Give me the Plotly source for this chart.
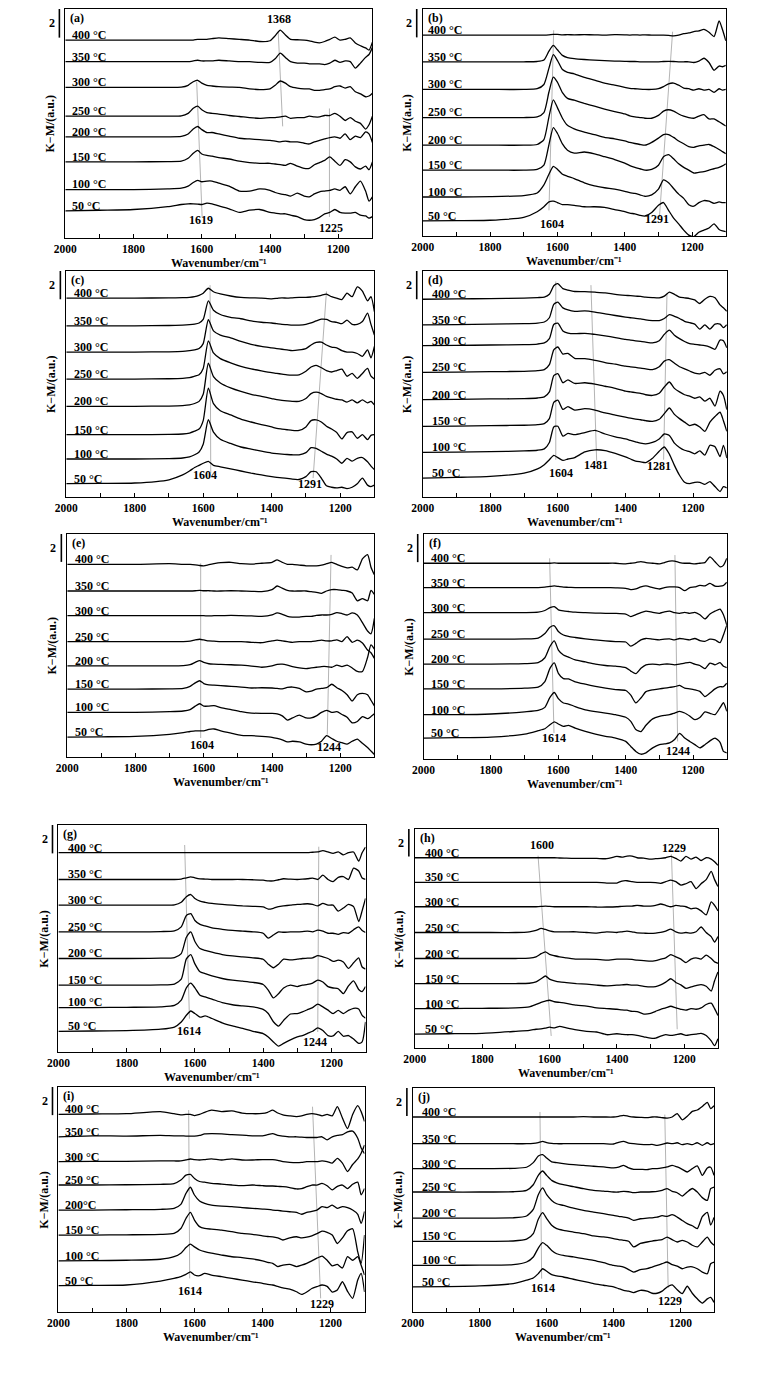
import plotly.graph_objects as go

# ---------------- data ----------------
wavenumbers = [2000, 1900, 1800, 1700, 1660, 1640, 1625, 1612, 1600, 1585,
               1570, 1550, 1520, 1490, 1460, 1430, 1400, 1385, 1370, 1355,
               1340, 1320, 1300, 1285, 1270, 1255, 1240, 1225, 1210, 1195,
               1180, 1165, 1150, 1135, 1120, 1110, 1100]

temps = ["50 °C", "100 °C", "150 °C", "200 °C", "250 °C", "300 °C", "350 °C", "400 °C"]
temps_i = ["50 °C", "100 °C", "150 °C", "200°C", "250 °C", "300 °C", "350 °C", "400 °C"]

# baseline level of each spectrum (50 ... 400 °C), a.u.
offsets_a = [1.89, 3.38, 5.32, 7.07, 8.51, 10.52, 12.32, 13.83]
offsets_b = [1.06, 2.75, 4.64, 6.40, 8.35, 10.33, 12.28, 14.16]
offsets_c = [0.94, 2.69, 4.41, 6.42, 8.35, 10.26, 12.12, 14.08]
offsets_d = [1.34, 3.16, 5.00, 6.89, 8.82, 10.71, 12.19, 14.00]
offsets_e = [1.43, 3.20, 4.87, 6.54, 8.28, 10.14, 11.91, 13.82]
offsets_f = [1.49, 3.15, 4.99, 6.75, 8.52, 10.41, 12.19, 13.92]
offsets_g = [1.46, 3.13, 4.71, 6.59, 8.47, 10.35, 12.16, 14.05]
offsets_h = [1.02, 2.88, 4.71, 6.54, 8.44, 10.32, 12.10, 13.90]
offsets_i = [1.87, 3.63, 5.47, 7.25, 9.03, 10.69, 12.46, 14.05]
offsets_j = [1.79, 3.33, 5.05, 6.71, 8.57, 10.24, 12.02, 13.93]

# K-M signal above each baseline, order 50 ... 400 °C
spectra_a = [
    [0,0.05,0.1,0.3,0.45,0.5,0.5,0.48,0.45,0.55, 0.5,0.35,0.15,-0.1,0.05,0.1,-0.1,-0.15,-0.2,-0.2, -0.3,-0.4,-0.6,-0.65,-0.6,-0.45,-0.2,-0.1,0.1,-0.1, -0.15,-0.15,-0.1,-0.3,-0.35,-0.5,-0.4],
    [0,0,0,0.05,0.1,0.25,0.5,0.65,0.55,0.6, 0.6,0.45,0.25,-0.1,-0.1,0.05,-0.05,-0.2,-0.3,-0.35, -0.45,-0.25,-0.45,-0.5,-0.3,-0.15,-0.1,-0.05,0.05,-0.05, 0.2,-0.3,0.2,0.6,-0.1,-0.8,-0.5],
    [0,0,0,0.02,0.05,0.25,0.6,0.8,0.55,0.45, 0.4,0.3,0.2,0.05,-0.05,-0.1,-0.1,-0.15,-0.2,-0.25, -0.1,-0.3,-0.45,-0.45,-0.2,-0.05,0.1,0.35,0.05,-0.25, 0.15,0,-0.35,-0.5,-0.3,-0.55,0],
    [0,0,0,0,0.03,0.2,0.55,0.72,0.5,0.3, 0.3,0.2,0.05,-0.1,-0.15,-0.2,-0.25,-0.3,-0.35,-0.3, -0.35,-0.35,-0.45,-0.5,-0.35,-0.25,-0.15,-0.05,0,-0.1, 0.2,-0.2,0.05,-0.05,0.35,0.2,-0.4],
    [0,0,0,0,0.02,0.2,0.55,0.7,0.45,0.25, 0.2,0.15,0.05,-0.02,-0.1,-0.15,-0.1,-0.1,-0.05,0, -0.15,-0.1,-0.1,0,-0.05,-0.05,0.05,0.05,0.2,0, -0.3,-0.1,-0.35,-0.5,-0.9,-0.6,0],
    [0,0,0,0,0.02,0.15,0.4,0.5,0.3,0.15, 0.1,0.05,0.02,0,-0.1,-0.15,-0.1,0.15,0.45,0.3, 0.05,-0.05,-0.1,-0.1,-0.2,-0.2,-0.15,-0.1,0.05,0.1, -0.05,0.05,-0.3,-0.45,-0.65,-0.6,-0.4],
    [0,0,0,0,0,0,0.05,0.1,0.05,0.05, 0.05,0.1,0.05,0,0,-0.05,-0.05,0.2,0.6,0.3, 0,-0.1,-0.1,-0.15,-0.15,-0.15,-0.2,-0.1,0.1,-0.05, 0.05,0,-0.45,-0.1,0.3,0.5,1.0],
    [0,0,0,0,0,0,0,0.05,0.05,0.05, 0.1,0.15,0.1,0.05,0,-0.1,-0.05,0.3,0.7,0.35, 0.05,0.02,0,-0.05,-0.15,-0.2,-0.1,0.05,0.2,0, 0.05,0.15,-0.2,-0.4,-0.55,-0.7,-0.15],
]
spectra_b = [
    [0,0.02,0.05,0.25,0.65,1.0,1.35,1.4,1.3,1.15, 1.15,1.1,1.0,1.0,0.95,0.8,0.65,0.55,0.5,0.4, 0.35,0.6,1.1,1.3,0.75,0.2,-0.2,-0.65,-1.0,-1.1, -0.8,-0.65,-0.5,-0.2,-0.6,-0.7,-0.75],
    [0,0,0.02,0.1,0.28,0.85,1.6,2.15,1.95,1.6, 1.46,1.3,1.0,0.78,0.65,0.55,0.4,0.3,0.25,0.15, 0.05,0.15,0.55,1.2,1.0,0.6,0.2,-0.1,-0.55,-0.65, -0.4,-0.25,-0.3,-0.45,-0.35,-0.4,-0.4],
    [0,0,0,0,0.05,0.35,1.8,3.0,2.6,1.85, 1.4,1.2,1.28,1.15,0.95,0.75,0.5,0.32,0.2,0.1, 0,0.05,0.35,0.95,1.1,0.8,0.45,0.2,0,-0.2, -0.15,-0.1,0,0.1,0.2,0.3,0.45],
    [0,0,0,0,0.05,0.4,2.0,3.2,2.65,1.9, 1.4,1.15,0.92,0.75,0.55,0.45,0.3,0.2,0.12,0.05, 0,0.2,0.5,0.75,0.75,0.55,0.3,0.1,-0.1,-0.15, -0.05,0,0.05,-0.1,-0.3,-0.45,-0.6],
    [0,0,0,0,0.05,0.35,1.8,2.85,2.5,1.75, 1.35,1.22,1.0,0.8,0.6,0.42,0.25,0.12,0.05,0, -0.05,-0.05,0.15,0.45,0.55,0.45,0.25,0.1,0,-0.05, 0.1,0.2,-0.1,-0.1,-0.3,-0.45,-0.6],
    [0,0,0,0,0.05,0.35,1.5,2.45,2.05,1.4, 1.2,1.1,0.85,0.65,0.45,0.3,0.15,0.08,0.05,0.02, 0,0,0.05,0.2,0.4,0.45,0.3,0.1,0.05,-0.05, 0.05,-0.05,0,-0.2,0.05,-0.05,0],
    [0,0,0,0,0.02,0.12,0.75,1.15,0.85,0.45, 0.3,0.22,0.16,0.12,0.08,0.05,0.03,0.02,0.02,0, 0,0,0,0.02,0.03,0.02,0,0,0,-0.05, 0.05,0.25,-0.05,-0.6,-0.3,-0.35,-0.25],
    [0,0,0,0,0,0,0.02,0.05,0.05,0.02, 0.03,0.02,0.03,0.02,0,0.03,0.02,0,0.02,0, 0.02,0,0,0,-0.02,-0.05,0,0.1,0.15,0.25, 0.3,0.4,0.2,-0.1,1.0,0.4,-0.4],
]
spectra_c = [
    [0,0.02,0.05,0.28,0.62,0.9,1.15,1.3,1.45,1.58, 1.3,1.2,1.05,0.9,0.75,0.62,0.5,0.45,0.42,0.38, 0.32,0.3,0.5,0.85,0.85,0.4,-0.15,-0.25,-0.3,-0.25, -0.35,-0.25,0,0.4,-0.1,-0.2,-0.1],
    [0,0,0,0.03,0.07,0.15,0.3,0.5,1.05,2.78, 1.9,1.4,1.1,0.85,0.7,0.55,0.42,0.38,0.35,0.32, 0.3,0.3,0.45,0.8,0.75,0.55,0.35,0.2,0,-0.3, 0.05,-0.15,0.05,0.1,-0.2,-0.5,-0.75],
    [0,0,0,0.02,0.05,0.12,0.25,0.4,1.0,3.3, 2.2,1.7,1.4,1.1,0.9,0.72,0.55,0.45,0.4,0.35, 0.3,0.3,0.55,1.0,1.05,0.9,0.6,0.4,0.15,-0.3, 0.15,0.2,-0.25,0,-0.35,-0.05,0],
    [0,0,0,0.02,0.05,0.1,0.2,0.35,0.85,3.05, 2.1,1.65,1.3,1.05,0.85,0.7,0.55,0.47,0.42,0.38, 0.35,0.35,0.55,0.9,1.0,0.9,0.7,0.6,0.5,0.45, 0.3,0.45,0.25,0.45,0.25,0.35,0.1],
    [0,0,0,0.02,0.05,0.1,0.2,0.3,0.75,2.71, 1.85,1.45,1.15,0.9,0.72,0.58,0.45,0.4,0.35,0.3, 0.28,0.3,0.55,0.85,0.97,0.8,0.6,0.5,0.6,0.7, 0.2,0.4,0.05,0.4,0.75,0.2,0],
    [0,0,0,0.02,0.05,0.1,0.15,0.25,0.6,2.29, 1.5,1.2,1.0,0.75,0.55,0.4,0.3,0.25,0.2,0.15, 0.1,0.15,0.25,0.5,0.68,0.7,0.5,0.35,0.3,0.1, 0,0,-0.1,-0.3,0.15,-0.4,0.4],
    [0,0,0,0.02,0.05,0.08,0.12,0.2,0.45,1.77, 1.1,0.8,0.6,0.5,0.35,0.25,0.2,0.15,0.1,0.08, 0.05,0.05,0.1,0.2,0.35,0.47,0.45,0.3,0.25,0.15, 0.4,0.1,0.1,0.3,0.9,0.1,-0.65],
    [0,0,0,0.02,0.03,0.05,0.1,0.2,0.35,0.7, 0.45,0.3,0.15,0.05,0.02,0,-0.05,-0.02,0.02,0, 0.02,0.05,0.05,0.08,0.12,0.2,0.28,0.1,0,-0.1, 0.35,0.1,0.8,0.5,-0.2,0.1,-0.95],
]
spectra_d = [
    [0,0.05,0.12,0.35,0.65,0.95,1.3,1.6,1.45,1.25, 1.35,1.45,1.85,2.0,1.95,1.75,1.5,1.35,1.2,1.15, 1.1,1.4,1.9,2.2,1.7,0.9,0.2,-0.3,-0.4,-0.3, -0.3,-0.45,-0.25,-0.6,-0.95,-0.6,-0.7],
    [0,0.02,0.05,0.1,0.15,0.25,0.7,1.8,1.85,1.15, 1.35,1.25,1.4,1.55,1.3,1.1,0.95,0.85,0.75,0.65, 0.6,0.7,0.95,1.3,1.2,0.65,0.35,0.15,0.05,-0.1, 0.1,-0.2,0.5,0.4,-0.3,0.5,-0.4],
    [0,0.02,0.05,0.08,0.12,0.2,0.55,1.7,1.85,1.2, 1.4,1.15,1.25,1.15,0.95,0.8,0.65,0.58,0.52,0.47, 0.4,0.35,0.5,0.9,1.3,0.85,0.55,0.3,0.05,0.15, -0.05,-0.35,0.3,0.7,1.0,0.4,-0.35],
    [0,0.02,0.05,0.08,0.12,0.2,0.55,1.7,1.85,1.2, 1.4,1.15,1.2,1.1,0.95,0.8,0.6,0.55,0.5,0.45, 0.35,0.3,0.45,0.9,1.25,0.8,0.55,0.35,0.25,0.1, 0.2,-0.1,0.1,-0.45,0.6,0.3,-0.7],
    [0,0.02,0.05,0.08,0.12,0.2,0.55,1.6,1.8,1.3, 1.35,1.0,0.97,0.85,0.7,0.58,0.45,0.4,0.35,0.3, 0.25,0.2,0.4,0.8,0.9,0.65,0.4,0.25,0.1,-0.05, -0.1,0,-0.2,0.15,0.25,-0.1,0.05],
    [0,0.02,0.05,0.08,0.12,0.2,0.5,1.5,1.6,1.05, 0.9,0.85,0.88,0.8,0.7,0.58,0.45,0.4,0.35,0.3, 0.25,0.2,0.35,0.8,1.1,0.75,0.5,0.3,0.15,0.1, 0.05,0,-0.1,-0.25,0.4,0.35,-0.15],
    [0,0.02,0.05,0.08,0.12,0.2,0.5,1.45,1.6,1.2, 1.05,0.95,0.98,0.9,0.78,0.66,0.55,0.5,0.45,0.42, 0.35,0.3,0.3,0.45,0.72,0.6,0.45,0.25,0.15,0.05, -0.3,0,-0.3,0.05,0.05,-0.2,0],
    [0,0.02,0.05,0.08,0.12,0.15,0.35,0.95,1.1,0.75, 0.65,0.55,0.54,0.5,0.45,0.35,0.28,0.25,0.22,0.2, 0.15,0.12,0.1,0.22,0.5,0.35,0.15,0.1,0.05,-0.05, -0.3,0,0.2,0.1,-0.4,-0.6,-0.85],
]
spectra_e = [
    [0,0.02,0.05,0.2,0.32,0.4,0.45,0.45,0.45,0.55, 0.58,0.45,0.28,0.12,0.1,0.05,-0.02,-0.1,-0.2,-0.35, -0.3,-0.35,-0.5,-0.55,-0.5,-0.3,0.1,-0.1,-0.3,-0.4, -0.5,-0.3,-0.15,-0.45,-0.75,-1.0,-1.25],
    [0,0,0,0.05,0.1,0.2,0.45,0.62,0.45,0.45, 0.48,0.35,0.2,0.05,-0.05,-0.07,-0.07,-0.1,-0.25,-0.55, -0.4,-0.2,-0.4,-0.4,-0.25,0,0.15,0,0.05,-0.15, -0.35,-0.75,-0.65,-0.3,-0.45,-0.3,-0.1],
    [0,0,0,0.02,0.05,0.2,0.45,0.6,0.4,0.3, 0.28,0.25,0.2,0.15,0.08,0.1,0.08,0.05,0.02,0.12, 0.15,0.05,-0.2,-0.15,0,0.05,0.1,0.35,0.1,-0.1, -0.4,-0.85,-0.4,-0.3,-0.4,-0.8,-1.2],
    [0,0,0,0,0.02,0.08,0.25,0.38,0.25,0.15, 0.12,0.1,0.08,0.05,-0.02,-0.1,0,0.1,0.12,0.05, -0.05,-0.15,-0.2,-0.15,-0.1,-0.05,-0.05,-0.1,0.05,-0.05, 0.05,-0.15,-0.4,-0.4,0.6,1.5,1.2],
    [0,0,0,0,0,0.03,0.12,0.17,0.12,0.05, 0.03,0,0,0,-0.05,-0.08,0.05,0.1,0.05,0, -0.05,0,0,0,0.05,0.1,0.05,0.05,0.12,0, 0.35,-0.05,0.1,-0.1,-0.6,-0.8,-1.2],
    [0,0,0,0,0,0,0,0,0,-0.02, 0,0,0.02,0,-0.02,-0.05,0.05,0.2,0.1,-0.05, -0.1,-0.1,-0.05,-0.05,0.02,0.05,0.05,0.1,0.22,0.15, 0.05,0.2,0.05,-0.5,-1.1,-1.3,-0.2],
    [0,0,0,0,0,0,0.02,0.05,0.02,0.02, 0,0,0.02,0,-0.02,-0.05,0.1,0.36,0.2,0.05, 0,0,0,-0.05,-0.1,-0.17,0,0.1,0.1,0.05, 0,-0.15,-0.7,-0.55,-0.7,0.05,-0.25],
    [0,0,0,0.05,0,0,-0.03,-0.08,-0.1,-0.02, 0.05,0.12,0.15,0.05,0.02,0.08,0.15,0.33,0.15,0, 0,-0.05,-0.1,-0.1,-0.1,-0.05,0.05,0.15,0,-0.15, -0.25,-0.2,-0.4,0.4,0.7,-0.2,-0.75],
]
spectra_f = [
    [0,0.03,0.07,0.28,0.52,0.66,0.95,1.15,1.0,0.83, 0.9,0.71,0.47,0.28,0.12,0,-0.24,-0.6,-0.95,-1.15, -1.05,-0.7,-0.47,-0.42,-0.35,-0.1,0.33,0,-0.24,-0.47, -0.7,-0.47,-0.2,0,-0.3,-0.95,-1.05],
    [0,0,0.05,0.2,0.3,0.52,1.23,1.58,1.14,0.83, 0.76,0.58,0.35,0.22,0.12,0,-0.18,-0.47,-1.05,-1.2, -0.75,-0.3,-0.12,-0.05,0,0.12,0.24,0.12,-0.1,-0.35, -0.2,0.2,0.1,0,0.5,0.85,0.25],
    [0,0,0,0.05,0.12,0.52,1.45,1.85,1.1,0.72, 0.7,0.5,0.33,0.18,0.05,-0.05,-0.12,-0.45,-1.0,-0.65, -0.2,-0.07,0,0.05,0.1,0.15,0.24,0.05,0,-0.07, -0.18,-0.55,-0.3,0,0.15,0.15,0.4],
    [0,0,0,0.03,0.1,0.45,1.25,1.65,1.0,0.65, 0.5,0.3,0.15,0,-0.1,-0.15,-0.25,-0.5,-0.68,-0.3, -0.05,0,-0.05,0,0,-0.05,0,0.07,0.12,0, -0.1,-0.33,0.07,-0.05,0.1,-0.15,-0.25],
    [0,0,0,0.02,0.08,0.4,0.85,0.95,0.55,0.3, 0.2,0.12,0.02,-0.05,-0.12,-0.17,-0.2,-0.5,-0.3,-0.05, 0.05,0,-0.05,0,0.02,-0.05,0.05,0,-0.05,0.05, -0.1,-0.15,0,-0.05,-0.25,0.3,1.0],
    [0,0,0,0,0.03,0.15,0.35,0.43,0.2,0.12, 0.08,0.03,0,-0.03,-0.05,-0.05,-0.1,-0.28,-0.15,0, 0.1,0.02,-0.05,0.05,0.1,0,-0.05,0.02,-0.05,0.02, -0.15,-0.45,-0.1,0.1,0.25,-0.15,-0.88],
    [0,0,0,0,0,0.03,0.08,0.12,0.08,0.03, 0.02,0,0,0,0,-0.02,-0.05,-0.15,-0.1,0.05, 0.12,0,-0.1,0,0.05,0.05,0,-0.22,0,0.05, 0.15,0.12,0.3,0.1,0.1,0.15,0.38],
    [0,0,0,0,0,0,0,0.02,0,0, 0,0,0,0,0,0,-0.05,0,0.05,0.12, 0.05,0,-0.05,0.05,0.15,0.15,0.05,0,0,-0.05, 0,0.05,0.45,0.1,-0.25,-0.15,0.35],
]
spectra_g = [
    [0,0.02,0.05,0.15,0.3,0.66,1.13,1.43,1.25,1.0, 1.08,0.9,0.6,0.38,0.2,0,-0.16,-0.4,-0.75,-1.05, -0.85,-0.6,-0.4,-0.3,-0.15,0,0.24,0.05,-0.3,-0.33, 0,-0.35,-0.3,-0.55,-0.85,-0.75,0.66],
    [0,0,0.02,0.05,0.15,0.52,1.39,1.72,1.39,0.87, 0.75,0.6,0.35,0.2,0.12,0.05,-0.12,-0.42,-1.0,-1.3, -0.9,-0.45,-0.42,-0.3,-0.15,0,0.24,0.05,-0.18,-0.42, -0.2,-0.42,-0.2,-0.05,-0.1,-0.55,-0.75],
    [0,0,0,0.02,0.08,0.42,1.85,2.15,1.5,0.94, 0.82,0.65,0.47,0.35,0.28,0.2,0.05,-0.35,-0.9,-0.6, -0.2,0,-0.1,0,0.05,0.15,0.35,0.22,-0.1,-0.2, -0.25,-0.6,-0.05,0.3,-0.3,-0.45,-0.1],
    [0,0,0,0.02,0.07,0.35,1.5,1.88,1.2,0.7, 0.58,0.45,0.28,0.18,0.12,0.05,-0.05,-0.4,-0.65,-0.4, -0.05,-0.1,-0.05,0,0.02,0.05,0.2,0.12,0,-0.2, -0.12,-0.25,-0.7,-0.3,0.05,-0.6,-0.75],
    [0,0,0,0.02,0.07,0.35,1.15,1.28,0.8,0.52, 0.42,0.28,0.18,0.1,0.05,0,-0.1,-0.45,-0.22,0, -0.03,0,0,0.02,0.05,0,0.12,0.05,-0.1,-0.1, -0.18,-0.05,-0.1,0.15,0.35,0.1,-0.05],
    [0,0,0,0,0.02,0.2,0.6,0.75,0.47,0.28, 0.2,0.12,0.05,0,-0.05,-0.08,-0.12,-0.28,-0.22,-0.1, -0.05,0,0.05,0.07,0.1,0.05,-0.05,0.12,0,0, -0.42,-0.2,0.05,-0.1,-1.15,-0.4,0.47],
    [0,0,0,0,0,0.03,0.12,0.19,0.12,0.05, 0.03,0,0,0,0,-0.02,-0.05,-0.1,-0.1,-0.02, 0.05,0.02,0,0.02,0.05,0.1,0,0.3,0,-0.15, 0.15,0.2,0,0.8,0.6,0.1,0],
    [0,0,0,0,0,0,0,0,0,0, 0,0,0,0,0,0,0,0,0,0, 0,0,0,0,0,0.03,0.05,0.15,0.05,-0.05, 0.05,-0.15,0,0.05,-0.6,0,0.4],
]
spectra_h = [
    [0,0.02,0.05,0.2,0.27,0.35,0.38,0.44,0.5,0.45, 0.56,0.45,0.3,0.2,0.15,-0.05,0.02,-0.02,-0.05,-0.05, -0.1,-0.2,-0.3,-0.3,-0.15,-0.05,-0.1,-0.05,0.02,-0.1, -0.05,0,0.05,-0.1,-0.5,-0.85,-0.35],
    [0,0,0.02,0.05,0.12,0.3,0.45,0.55,0.61,0.5, 0.45,0.38,0.25,0.18,0.05,0,-0.05,-0.1,-0.12,-0.2, -0.22,-0.4,-0.35,-0.2,-0.05,0.05,0.17,0.05,-0.05,-0.12, 0,-0.05,0.05,0.3,0.4,0,-0.5],
    [0,0,0,0,0.02,0.12,0.35,0.55,0.32,0.2, 0.12,0.07,0,-0.05,-0.12,-0.17,-0.12,-0.1,-0.07,-0.12, -0.12,-0.2,-0.25,-0.22,-0.1,0.1,0.35,0.08,-0.1,-0.35, -0.25,-0.15,-0.08,-0.2,-0.55,0.2,0.85],
    [0,0,0,0,0.02,0.12,0.35,0.49,0.3,0.2, 0.12,0.05,-0.05,-0.05,-0.07,-0.12,-0.05,-0.05,-0.05,-0.07, -0.12,-0.15,-0.2,-0.15,-0.05,0.05,0.28,0.12,-0.05,-0.3, -0.05,0.05,-0.05,0.25,0,-0.25,-0.35],
    [0,0,0,0,0.05,0.15,0.3,0.22,0.12,0.05, 0.05,0.05,0.05,0,-0.05,0.05,0,0.05,0.1,0.05, -0.03,-0.05,-0.07,-0.05,0,0.1,0.24,0.05,-0.05,0, -0.05,0.05,0.4,0,-0.3,-0.7,-0.3],
    [0,0,0,0,0,0,0.02,0.05,0.02,0, 0,0,0,0,-0.02,-0.02,0,0.03,0.05,0.05, 0.1,0.05,0.05,0.1,0.2,0.1,0,0.1,0.05,0, -0.15,-0.1,-0.3,-0.6,0.35,0.1,-0.3],
    [0,0,0,0,0,0,0,0,0,0, 0,0,0,0,0,-0.05,-0.05,0.1,0.12,0.05, 0,0,0,-0.02,-0.07,0.05,0.17,0.05,-0.2,-0.1, 0.05,-0.45,-0.1,0.2,0.8,0.2,-0.3],
    [0,0,0,0,0,0,0,0,0,0, -0.02,-0.03,-0.05,-0.05,-0.05,-0.07,0.1,0.05,0.12,0.12, 0,-0.03,-0.1,-0.07,-0.05,0,0.1,-0.05,-0.24,0.1, -0.1,0.05,-0.2,0,-0.1,-0.3,-0.55],
]
spectra_i = [
    [0,0.02,0.05,0.33,0.52,0.64,0.8,0.98,0.76,0.71, 0.88,0.76,0.64,0.52,0.4,0.28,0.17,0.1,0.05,-0.05, -0.15,-0.24,-0.43,-0.62,-0.45,-0.2,-0.07,0.05,-0.05,-0.45, -0.3,0.28,-0.4,-0.9,0.4,0.88,-0.45],
    [0,0.02,0.05,0.12,0.3,0.55,0.95,1.2,1.0,0.78, 0.66,0.55,0.42,0.3,0.24,0.14,0,-0.1,-0.17,-0.4, -0.3,-0.24,-0.4,-0.3,-0.17,0,0.2,0.35,0.05,-0.35, -0.25,-0.5,0.3,0.05,0.3,-0.3,-1.0],
    [0,0,0.02,0.05,0.12,0.47,1.18,1.62,1.07,0.6, 0.47,0.42,0.35,0.24,0.12,0.05,-0.05,-0.1,-0.12,-0.2, -0.35,-0.2,-0.12,-0.2,-0.15,-0.05,0.1,0.28,0.2,0, -0.6,-0.2,0.3,0.45,-1.2,-2.0,0],
    [0,0,0.02,0.05,0.12,0.4,1.18,1.62,1.07,0.64, 0.47,0.35,0.28,0.24,0.17,0.12,0.07,0.05,0,-0.03, -0.07,-0.12,-0.17,-0.3,-0.17,-0.1,0,0.24,0.17,0.35, 0.12,0.24,0.17,0,-0.3,-0.95,-0.1],
    [0,0,0.02,0.05,0.1,0.35,0.7,0.75,0.47,0.25, 0.2,0.12,0.07,0,-0.05,0,-0.05,-0.07,-0.07,-0.1, -0.12,-0.18,-0.28,-0.25,-0.12,0,0,0.12,-0.05,-0.35, -0.1,0,-0.25,0.05,0.2,-0.7,-0.25],
    [0,0.02,0.02,0.05,0.05,0.05,0.12,0.19,0.15,0.12, 0.15,0.2,0.12,0.2,0.12,0.12,0.15,0.15,0.15,0.1, 0,-0.05,-0.07,-0.05,0,0,0,0.05,0,-0.1, 0.24,-0.1,-0.7,-0.2,0.2,0.6,1.18],
    [0,0.07,0.05,0.1,0.07,0.07,0.05,0.05,0.05,0.1, 0.2,0.22,0.2,0.15,0.12,0.07,0.07,0.15,0.22,0.1, 0.05,0,0,-0.03,-0.05,-0.05,-0.05,0,-0.22,0, 0.1,0.15,0.35,0.4,-0.1,-0.8,-1.2],
    [0,0.03,0.05,0.2,0.05,-0.03,0,0,-0.08,0, 0.15,0.3,0.2,0.25,0.1,0.05,0.07,0.15,0.3,0.1, -0.03,-0.1,-0.15,-0.1,0,0.05,0,-0.1,0,-0.1, 0.55,-0.25,-1.0,0,0.62,0.2,-0.5],
]
spectra_j = [
    [0,0.02,0.07,0.24,0.48,0.64,0.95,1.3,1.12,0.88, 0.79,0.71,0.55,0.4,0.24,0.12,0,-0.12,-0.24,-0.3, -0.4,-0.24,-0.3,-0.45,-0.45,-0.3,0,0.15,-0.2,-0.48, 0.05,-0.45,-0.85,-1.15,-0.85,-0.75,-1.1],
    [0,0,0.02,0.05,0.24,0.6,1.24,1.62,1.43,1.07, 0.83,0.71,0.6,0.48,0.36,0.19,0,-0.05,-0.12,-0.3, -0.48,-0.3,-0.24,-0.12,0,0.12,0.24,0.05,-0.05,-0.24, -0.12,-0.1,-0.24,-0.48,-0.6,0.12,0.24],
    [0,0,0,0.02,0.15,0.55,1.57,2.05,1.62,1.14, 0.9,0.78,0.66,0.55,0.38,0.31,0.19,0.12,0.07,0, -0.4,-0.15,-0.05,0.02,0.07,0.12,0.3,0.12,-0.05,0.07, -0.05,-0.28,-0.4,-0.05,0.3,-0.05,-0.28],
    [0,0,0,0.02,0.15,0.62,1.67,2.15,1.67,1.26, 1.02,0.9,0.71,0.55,0.43,0.31,0.19,0.12,0.07,0, -0.17,-0.05,0,0.02,0.07,0.17,0.12,0.24,0.07,-0.17, -0.4,-0.55,-0.76,0.1,0.4,-0.5,0.05],
    [0,0,0,0.02,0.12,0.52,1.19,1.5,1.19,0.83, 0.66,0.52,0.38,0.24,0.12,0.07,0,0,0.05,0.02, -0.05,0,0,0.02,0.05,0.12,0.24,0.05,-0.05,-0.29, 0,0.25,0,-0.4,-0.6,0.24,0.35],
    [0,0,0,0.02,0.1,0.43,0.9,1.0,0.76,0.48, 0.43,0.36,0.28,0.24,0.17,0.12,0.05,0.1,0.24,0.05, -0.05,-0.05,-0.07,0,0,0.05,0.12,0.24,0.12,-0.05, -0.24,0,0.2,-0.48,0.05,0.1,-0.48],
    [0,0,0,0,0,0.02,0.08,0.17,0.08,0.02, 0,0,0,0,0,0,-0.02,0.1,0.17,0.05, 0,-0.05,-0.07,-0.05,-0.12,-0.05,0.05,0,0.07,-0.07, 0,-0.07,0.07,-0.12,0.07,-0.07,0],
    [0,0,0,0,0,0,0,0,0,0, 0,0,0,0.02,0,0,0,0.05,0.12,0.05, 0,-0.03,-0.05,0,0,-0.05,-0.08,0,0.24,-0.2, 0.05,0.4,0.5,0.75,1.05,0.6,0.8],
]

# peak-shift guide lines: (wn_top, y_top, wn_bottom, y_bottom)
guides_a = [(1376, 14.4, 1363, 7.8), (1615, 10.9, 1599, 1.47), (1226, 9.05, 1226, 1.47)]
guides_b = [(1611, 14.5, 1625, 1.81), (1258, 14.4, 1297, 1.34)]
guides_c = [(1580, 15.0, 1578, 1.7), (1240, 14.55, 1279, 1.34)]
guides_d = [(1606, 15.26, 1606, 2.64), (1502, 15.0, 1485, 2.52), (1277, 14.43, 1287, 2.64)]
guides_e = [(1609, 13.9, 1609, 1.36), (1227, 14.5, 1238, 1.6)]
guides_f = [(1626, 14.27, 1613, 1.85), (1254, 14.5, 1246, 1.25)]
guides_g = [(1630, 14.59, 1616, 2.35), (1237, 14.47, 1240, 1.41)]
guides_h = [(1634, 14.05, 1595, 0.88), (1238, 14.15, 1221, 1.37)]
guides_i = [(1617, 14.36, 1614, 2.39), (1253, 14.6, 1229, 0.97)]
guides_j = [(1620, 14.29, 1615, 2.38), (1247, 14.1, 1237, 1.71)]

# peak labels: (text, wavenumber, y)
peaks_a = [("1368", 1373, 15.3), ("1619", 1601, 1.24), ("1225", 1222, 0.72)]
peaks_b = [("1604", 1615, 0.82), ("1291", 1304, 1.18)]
peaks_c = [("1604", 1596, 1.53), ("1291", 1288, 0.94)]
peaks_d = [("1604", 1591, 1.7), ("1481", 1488, 2.29), ("1281", 1301, 2.17)]
peaks_e = [("1604", 1604, 0.84), ("1244", 1234, 0.69)]
peaks_f = [("1614", 1613, 1.49), ("1244", 1244, 0.54)]
peaks_g = [("1614", 1616, 1.48), ("1244", 1247, 0.7)]
peaks_h = [("1600", 1621, 14.83), ("1229", 1231, 14.59)]
peaks_i = [("1614", 1614, 1.49), ("1229", 1224, 0.55)]
peaks_j = [("1614", 1612, 1.71), ("1229", 1232, 0.76)]

x_ticks = [2000, 1800, 1600, 1400, 1200]
scale_bar = 2

# ---------------- layout (pixel boxes of each panel in the 778x1400 page) ----------------
PAGE_OFF = 8              # default body margin of the html page
W, H = 778 - PAGE_OFF, 1400 - PAGE_OFF
FONT = "Liberation Serif"
panels = [
    # name, data, offsets, guides, peaks, labels, box(l, r, t, b), label x
    ("a", spectra_a, offsets_a, guides_a, peaks_a, temps, (54, 366, 9, 238), 1985),
    ("b", spectra_b, offsets_b, guides_b, peaks_b, temps, (417, 725, 9, 236), 1990),
    ("c", spectra_c, offsets_c, guides_c, peaks_c, temps, (55, 368, 271, 497), 1983),
    ("d", spectra_d, offsets_d, guides_d, peaks_d, temps, (417, 726, 271, 497), 1978),
    ("e", spectra_e, offsets_e, guides_e, peaks_e, temps, (56, 368, 534, 757), 1984),
    ("f", spectra_f, offsets_f, guides_f, peaks_f, temps, (418, 726, 534, 759), 1984),
    ("g", spectra_g, offsets_g, guides_g, peaks_g, temps, (47, 359, 825, 1052), 1978),
    ("h", spectra_h, offsets_h, guides_h, peaks_h, temps, (409, 717, 829, 1048), 1977),
    ("i", spectra_i, offsets_i, guides_i, peaks_i, temps_i, (47, 358, 1087, 1312), 1985),
    ("j", spectra_j, offsets_j, guides_j, peaks_j, temps, (407, 713, 1088, 1312), 1978),
]

YMAX = 16.0
BOLD = dict(family=FONT, size=12, color="black", weight="bold")
TICKF = dict(family=FONT, size=11.5, color="black", weight="bold")
fig = go.Figure()
annotations = []
shapes = []
layout = {}

for k, (name, spectra, offsets, guides, peaks, labels, box, lab_x) in enumerate(panels):
    sfx = "" if k == 0 else str(k + 1)
    xr, yr = "x" + sfx, "y" + sfx
    l, r, t, b = [v - PAGE_OFF for v in box]
    pw, ph = r - l, b - t
    layout["xaxis" + sfx] = dict(
        domain=[l / W, r / W], anchor=yr, range=[2000, 1100],
        showline=True, linecolor="black", linewidth=1, mirror=True,
        ticks="inside", ticklen=4, tickcolor="black", tickwidth=1,
        tickvals=x_ticks, ticktext=[str(v) for v in x_ticks],
        minor=dict(ticks="inside", ticklen=4, dtick=100, tick0=2000, tickcolor="black"),
        tickfont=TICKF, showgrid=False, zeroline=False, fixedrange=True,
    )
    layout["yaxis" + sfx] = dict(
        domain=[1 - b / H, 1 - t / H], anchor=xr, range=[0, YMAX],
        showline=True, linecolor="black", linewidth=1, mirror=True,
        ticks="", showticklabels=False, showgrid=False, zeroline=False, fixedrange=True,
    )
    for sp in spectra:
        assert len(sp) == len(wavenumbers)
    for (w1, y1, w2, y2) in guides:
        shapes.append(dict(type="line", xref=xr, yref=yr, x0=w1, y0=y1, x1=w2, y1=y2,
                           line=dict(color="#b4b4b4", width=1), layer="below"))
    for sp, off, lab in zip(spectra, offsets, labels):
        fig.add_trace(go.Scatter(
            x=wavenumbers, y=[off + v for v in sp], xaxis=xr, yaxis=yr,
            mode="lines", line=dict(color="black", width=1.3, shape="spline", smoothing=0.6),
            showlegend=False, hoverinfo="skip"))
        annotations.append(dict(xref=xr, yref=yr, x=lab_x, y=off + 0.36, text=lab,
                                showarrow=False, xanchor="left", yanchor="middle", font=BOLD))
    for (txt, wn, yy) in peaks:
        annotations.append(dict(xref=xr, yref=yr, x=wn, y=yy, text=txt, showarrow=False,
                                xanchor="center", yanchor="middle", font=BOLD))
    # x title
    annotations.append(dict(xref=xr + " domain", yref=yr + " domain", x=0.5, y=-25 / ph,
                            text="Wavenumber/cm⁻¹", showarrow=False,
                            xanchor="center", yanchor="middle", font=BOLD))
    # panel letter
    annotations.append(dict(xref=xr + " domain", yref=yr + " domain", x=3 / pw, y=1 - 9 / ph,
                            text=f"({name})", showarrow=False, xanchor="left", yanchor="middle",
                            font=BOLD))
    # y title
    annotations.append(dict(xref=xr + " domain", yref=yr + " domain", x=-15.5 / pw, y=0.5,
                            text="K−M/(a.u.)", textangle=-90, showarrow=False,
                            xanchor="center", yanchor="middle", font=BOLD))
    # scale bar
    shapes.append(dict(type="line", xref=xr + " domain", yref=yr, x0=-6 / pw, x1=-6 / pw,
                       y0=YMAX, y1=YMAX - scale_bar, line=dict(color="black", width=1.6)))
    annotations.append(dict(xref=xr + " domain", yref=yr, x=-14 / pw, y=YMAX - scale_bar / 2,
                            text=str(scale_bar), showarrow=False, xanchor="center",
                            yanchor="middle", font=BOLD))

fig.update_layout(**layout)
fig.update_layout(width=W, height=H, margin=dict(l=0, r=0, t=0, b=0),
                  paper_bgcolor="white", plot_bgcolor="white",
                  annotations=annotations, shapes=shapes, showlegend=False)
fig.write_html("out.html")
